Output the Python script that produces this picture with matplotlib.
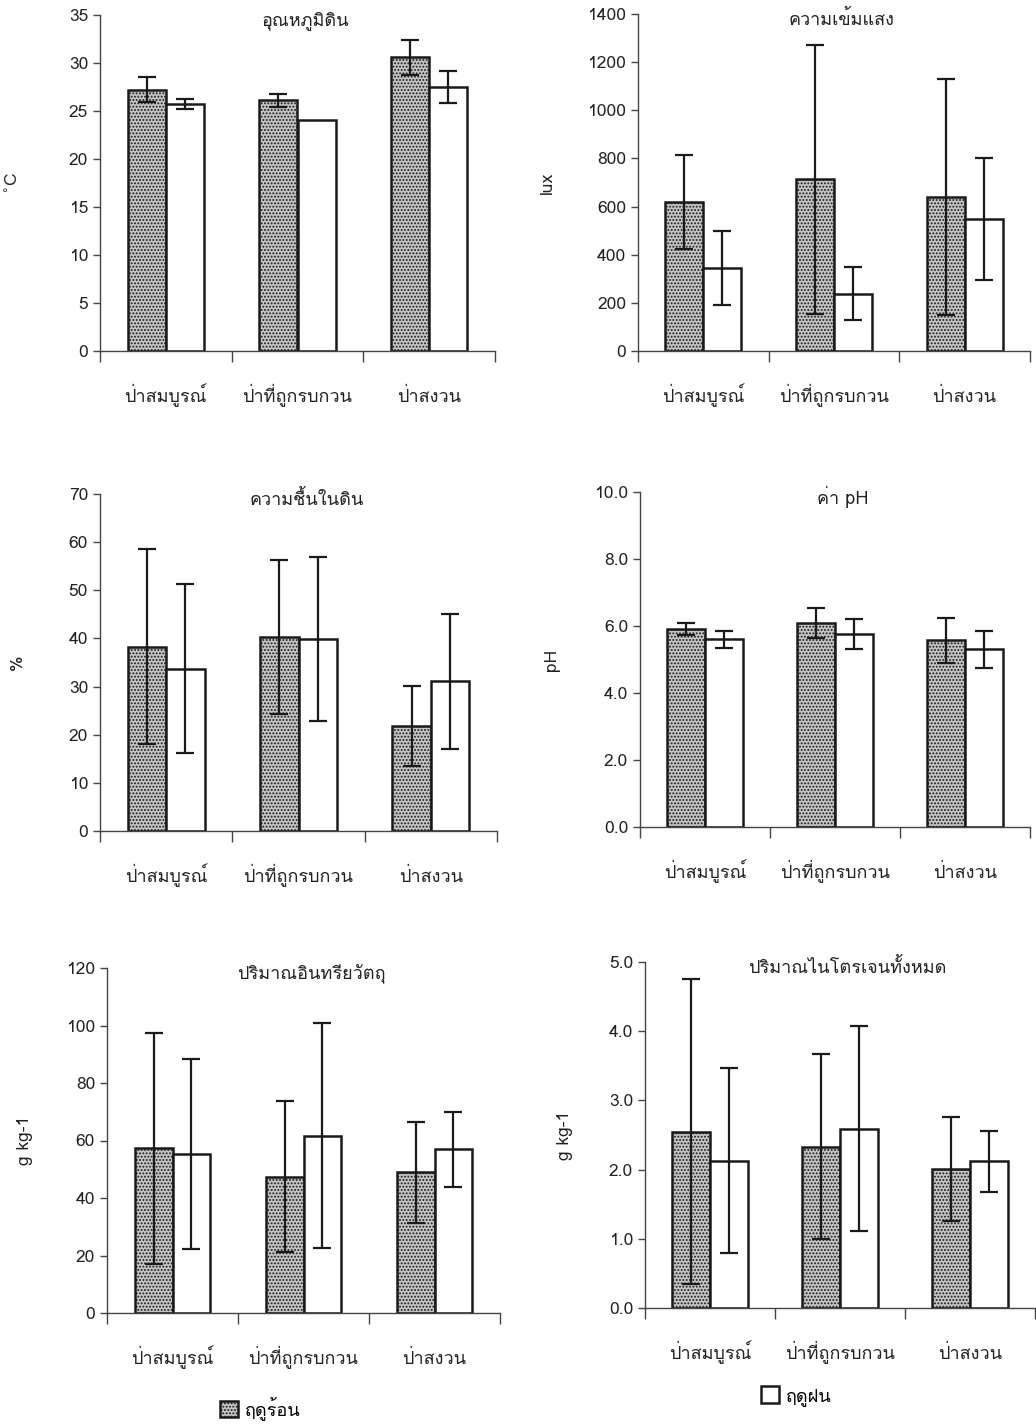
import matplotlib
matplotlib.use("Agg")
import matplotlib.pyplot as plt
from matplotlib import font_manager, ft2font
import numpy as np

# pick an installed face that actually has Thai glyphs
thai_font = None
for f in font_manager.fontManager.ttflist:
    try:
        if ft2font.FT2Font(f.fname).get_char_index(0x0E01):
            thai_font = f.name
            break
    except Exception:
        pass
families = ([thai_font] if thai_font else []) + ["DejaVu Sans"]
plt.rcParams["font.family"] = families
plt.rcParams["hatch.linewidth"] = 0.9

W, H = 1036, 1425

forests = ["ป่าสมบูรณ์", "ป่าที่ถูกรบกวน", "ป่าสงวน"]
seasons = ["ฤดูร้อน", "ฤดูฝน"]

# soil temperature (°C)
temp_hot = [27.2, 26.1, 30.6]
temp_hot_sd = [1.3, 0.7, 1.8]
temp_rain = [25.7, 24.1, 27.5]
temp_rain_sd = [0.5, 0.0, 1.7]

# light intensity (lux)
lux_hot = [620, 713, 640]
lux_hot_sd = [195, 560, 490]
lux_rain = [345, 238, 548]
lux_rain_sd = [152, 110, 253]

# soil moisture (%)
moist_hot = [38.3, 40.2, 21.8]
moist_hot_sd = [20.2, 16.0, 8.4]
moist_rain = [33.7, 39.9, 31.1]
moist_rain_sd = [17.6, 17.0, 14.0]

# pH
ph_hot = [5.90, 6.08, 5.58]
ph_hot_sd = [0.18, 0.45, 0.67]
ph_rain = [5.60, 5.76, 5.30]
ph_rain_sd = [0.25, 0.44, 0.56]

# organic matter (g kg-1)
om_hot = [57.3, 47.4, 48.9]
om_hot_sd = [40.2, 26.3, 17.5]
om_rain = [55.3, 61.7, 56.9]
om_rain_sd = [33.0, 39.0, 13.0]

# total nitrogen (g kg-1)
n_hot = [2.55, 2.33, 2.01]
n_hot_sd = [2.20, 1.34, 0.75]
n_rain = [2.13, 2.59, 2.12]
n_rain_sd = [1.34, 1.48, 0.44]

panels = [
    # title, ylabel, hot, hot_sd, rain, rain_sd, ymax, step, fmt,
    # pixel box (x0, x1, ytop, ybottom), ylabel x in pixels
    ("อุณหภูมิดิน", "$^{\\circ}$C", temp_hot, temp_hot_sd, temp_rain, temp_rain_sd, 35, 5, "%d", (100, 495, 15, 351), 13),
    ("ความเข้มแสง", "lux", lux_hot, lux_hot_sd, lux_rain, lux_rain_sd, 1400, 200, "%d", (638, 1030, 14, 351), 548),
    ("ความชื้นในดิน", "%", moist_hot, moist_hot_sd, moist_rain, moist_rain_sd, 70, 10, "%d", (100, 497, 494, 831), 18),
    ("ค่า pH", "pH", ph_hot, ph_hot_sd, ph_rain, ph_rain_sd, 10, 2, "%.1f", (640, 1030, 492, 827), 552),
    ("ปริมาณอินทรียวัตถุ", "g kg-1", om_hot, om_hot_sd, om_rain, om_rain_sd, 120, 20, "%d", (107, 500, 968, 1313), 25),
    ("ปริมาณไนโตรเจนทั้งหมด", "g kg-1", n_hot, n_hot_sd, n_rain, n_rain_sd, 5, 1, "%.1f", (645, 1035, 962, 1308), 565),
]

fig = plt.figure(figsize=(W / 100, H / 100), dpi=100)
fig.patch.set_facecolor("white")

x = np.arange(len(forests))
bw = 0.29
ink = "#1a1a1a"
ebkw = dict(ecolor=ink, elinewidth=1.6, capsize=6.5, capthick=1.6)

handles = None
for title, ylab, hot, hot_sd, rain, rain_sd, ymax, step, fmt, box, ylx in panels:
    x0, x1, yt, yb = box
    ax = fig.add_axes([x0 / W, 1 - yb / H, (x1 - x0) / W, (yb - yt) / H])
    b1 = ax.bar(x - bw / 2, hot, bw, color="#c4c4c4", edgecolor=ink,
                linewidth=1.8, hatch=".....", zorder=2)
    b2 = ax.bar(x + bw / 2, rain, bw, color="white", edgecolor=ink,
                linewidth=1.8, zorder=2)
    ax.errorbar(x - bw / 2, hot, yerr=hot_sd, fmt="none", zorder=3, **ebkw)
    rsd = np.array(rain_sd)
    keep = rsd > 0
    ax.errorbar((x + bw / 2)[keep], np.array(rain)[keep], yerr=rsd[keep], fmt="none", zorder=3, **ebkw)
    handles = (b1, b2)

    ax.set_xlim(-0.5, 2.5)
    ax.set_ylim(0, ymax)
    ax.set_yticks(np.arange(0, ymax + step / 2, step))
    ax.yaxis.set_major_formatter(matplotlib.ticker.FormatStrFormatter(fmt))
    ax.set_xticks(x)
    ax.set_xticklabels(forests, va="baseline")
    ax.set_xticks([-0.5, 0.5, 1.5, 2.5], minor=True)
    ax.tick_params(axis="x", which="major", length=0, pad=37, labelsize=13, colors="#222222")
    ax.tick_params(axis="x", which="minor", length=8, width=1, direction="out", color="#444444")
    ax.tick_params(axis="y", length=5, width=1, direction="out", labelsize=12.5, colors="#222222", color="#444444")
    for s in ("top", "right"):
        ax.spines[s].set_visible(False)
    for s in ("left", "bottom"):
        ax.spines[s].set_color("#444444")
        ax.spines[s].set_linewidth(1.0)

    ax.text(0.52, 0.985, title, transform=ax.transAxes, ha="center", va="center",
            fontsize=13, color="#222222")
    ax.set_ylabel(ylab, fontsize=12.5, color="#222222", va="center", ha="center")
    ax.yaxis.set_label_coords((ylx - x0) / (x1 - x0), 0.5)

# season keys under the bottom row
fig.legend([handles[0]], [seasons[0]], loc="center left", bbox_to_anchor=(220 / W, 1 - 1408 / H),
           frameon=False, fontsize=13, handlelength=1.0, handleheight=1.0, handletextpad=0.4,
           borderpad=0, borderaxespad=0)
fig.legend([handles[1]], [seasons[1]], loc="center left", bbox_to_anchor=(761 / W, 1 - 1396 / H),
           frameon=False, fontsize=13, handlelength=1.0, handleheight=1.0, handletextpad=0.4,
           borderpad=0, borderaxespad=0)

fig.savefig("out.png", dpi=100, facecolor="white")
